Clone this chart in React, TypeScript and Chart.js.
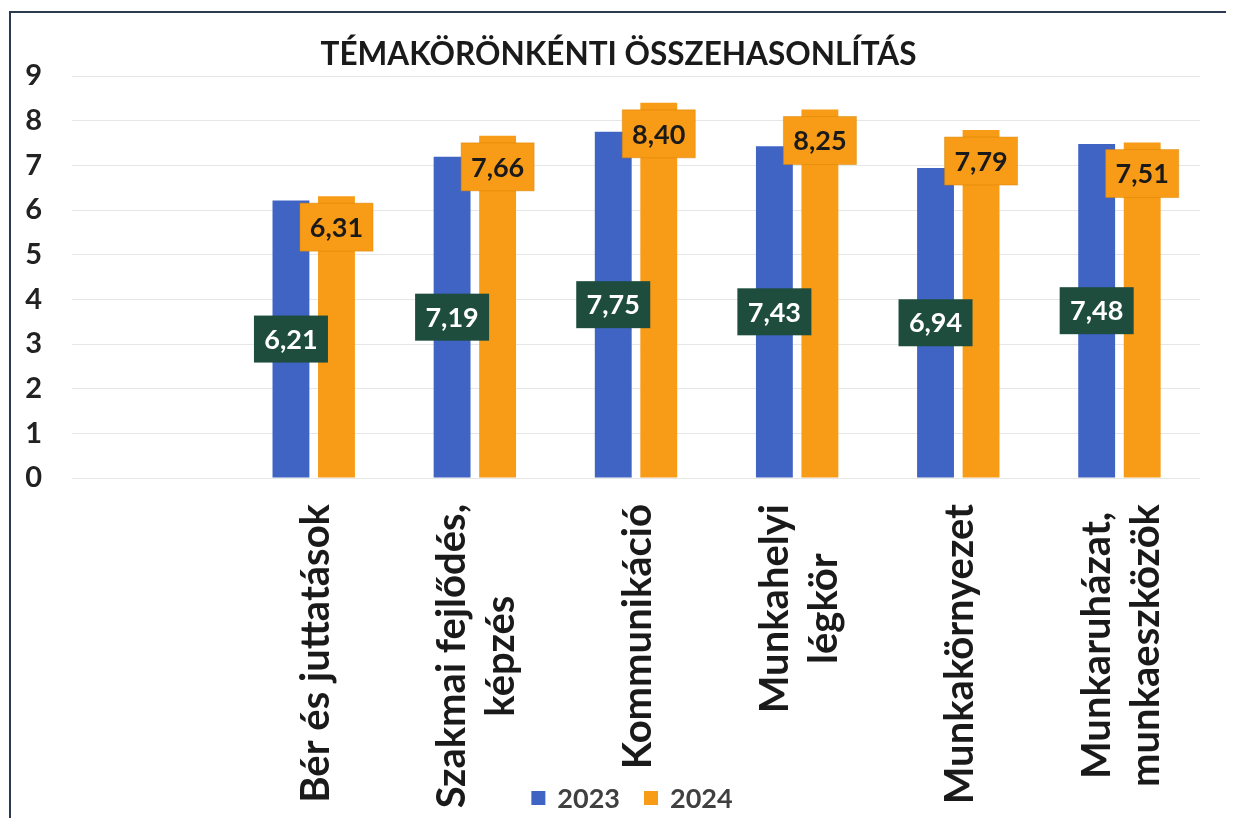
import React, { useEffect, useRef } from 'react';
import { Chart, registerables } from 'chart.js';

Chart.register(...registerables);

// ---- data ----
const categories: (string | string[])[] = [
  '',
  'Bér és juttatások',
  ['Szakmai fejlődés,', 'képzés'],
  'Kommunikáció',
  ['Munkahelyi', 'légkör'],
  'Munkakörnyezet',
  ['Munkaruházat,', 'munkaeszközök'],
];
const values2023: (number | null)[] = [null, 6.21, 7.19, 7.75, 7.43, 6.94, 7.48];
const values2024: (number | null)[] = [null, 6.31, 7.66, 8.4, 8.25, 7.79, 7.51];
const seriesNames = ['2023', '2024'];
const yTickValues = [0, 1, 2, 3, 4, 5, 6, 7, 8, 9];
const chartTitle = 'TÉMAKÖRÖNKÉNTI ÖSSZEHASONLÍTÁS';

// ---- style ----
const FONT = 'Lato, "Open Sans", sans-serif';
const BLUE = '#3F64C4';
const ORANGE = '#F89B16';
const GREEN = '#1E4D3E';
const TEXT = '#1a1a1a';
const LEGEND_TEXT = '#404040';
const CAT_FONT_SIZE = 40;
const CAT_LINE_HEIGHT = 49;
const CAT_PAD = 26;

const fmt = (v: number) => v.toFixed(2).replace('.', ',');

const overlayPlugin = {
  id: 'overlay',
  afterDatasetsDraw(chart: any) {
    const ctx: CanvasRenderingContext2D = chart.ctx;
    ctx.save();
    ctx.font = `bold 27px ${FONT}`;
    ctx.textAlign = 'center';
    ctx.textBaseline = 'middle';
    // 2023 labels: centered on bar, dark green box
    const m0 = chart.getDatasetMeta(0);
    m0.data.forEach((bar: any, i: number) => {
      const v = chart.data.datasets[0].data[i];
      if (v == null) return;
      const { x, y, base } = bar.getProps(['x', 'y', 'base'], true);
      const cy = (y + base) / 2;
      ctx.fillStyle = GREEN;
      ctx.fillRect(x - 37, cy - 23.5, 74, 47);
      ctx.fillStyle = '#ffffff';
      ctx.fillText(fmt(v), x, cy + 1);
    });
    // 2024 labels: inside end, orange box
    const m1 = chart.getDatasetMeta(1);
    m1.data.forEach((bar: any, i: number) => {
      const v = chart.data.datasets[1].data[i];
      if (v == null) return;
      const { x, y } = bar.getProps(['x', 'y'], true);
      ctx.fillStyle = ORANGE;
      ctx.fillRect(x - 36.5, y + 7, 73, 48);
      ctx.strokeStyle = 'rgba(210,130,0,0.45)';
      ctx.lineWidth = 1;
      ctx.strokeRect(x - 36.5, y + 7, 73, 48);
      ctx.fillStyle = TEXT;
      ctx.fillText(fmt(v), x, y + 32);
    });
    ctx.restore();
  },
  afterDraw(chart: any) {
    const ctx: CanvasRenderingContext2D = chart.ctx;
    const ca = chart.chartArea;
    const xs = chart.scales.x;
    ctx.save();
    ctx.fillStyle = TEXT;
    ctx.font = `bold ${CAT_FONT_SIZE}px ${FONT}`;
    ctx.textAlign = 'center';
    ctx.textBaseline = 'middle';
    (chart.data.labels as any[]).forEach((lab, i) => {
      const lines: string[] = Array.isArray(lab) ? lab : [lab];
      if (!lines.join('')) return;
      const px = xs.getPixelForTick(i);
      const W = Math.max(...lines.map((l) => ctx.measureText(l).width));
      const cy = ca.bottom + CAT_PAD + W / 2;
      lines.forEach((l, k) => {
        ctx.save();
        ctx.translate(px + 2 + (k - (lines.length - 1) / 2) * CAT_LINE_HEIGHT, cy);
        ctx.rotate(-Math.PI / 2);
        ctx.fillText(l, 0, 0);
        ctx.restore();
      });
    });

    // legend
    ctx.font = `bold 27px ${FONT}`;
    ctx.textAlign = 'left';
    const box = 14;
    const gapBT = 12;
    const gapItems = 24;
    const items = chart.data.datasets.map((d: any) => ({
      label: d.label as string,
      color: d.backgroundColor as string,
      w: ctx.measureText(d.label).width,
    }));
    const total =
      items.reduce((s: number, it: any) => s + box + gapBT + it.w, 0) + gapItems * (items.length - 1);
    let x = (ca.left + ca.right) / 2 - total / 2 - 4;
    const ly = chart.height - 20;
    items.forEach((it: any) => {
      ctx.fillStyle = it.color;
      ctx.fillRect(x, ly - box / 2, box, box);
      x += box + gapBT;
      ctx.fillStyle = LEGEND_TEXT;
      ctx.fillText(it.label, x, ly + 1);
      x += it.w + gapItems;
    });
    ctx.restore();
  },
};

export default function App() {
  const ref = useRef<HTMLCanvasElement>(null);
  useEffect(() => {
    if (!ref.current) return;
    const chart = new Chart(ref.current, {
      type: 'bar',
      data: {
        labels: categories as any,
        datasets: [
          {
            label: seriesNames[0],
            data: values2023 as any,
            backgroundColor: BLUE,
            categoryPercentage: 0.565,
            barPercentage: 0.81,
          },
          {
            label: seriesNames[1],
            data: values2024 as any,
            backgroundColor: ORANGE,
            categoryPercentage: 0.565,
            barPercentage: 0.81,
          },
        ],
      },
      options: {
        responsive: false,
        animation: false,
        layout: { padding: 0 },
        plugins: {
          legend: { display: false },
          tooltip: { enabled: false },
          title: {
            display: true,
            text: chartTitle,
            color: TEXT,
            font: { family: FONT, size: 31.5, weight: 'bold', lineHeight: 1.2 },
            padding: { top: 23, bottom: 2.2 },
          },
        },
        scales: {
          x: {
            grid: { display: false },
            border: { display: false },
            ticks: {
              color: 'rgba(0,0,0,0)',
              font: { family: FONT, size: 6 },
              maxRotation: 90,
              minRotation: 90,
              autoSkip: false,
              padding: CAT_PAD,
            },
            afterFit: (scale: any) => {
              scale.height = 340;
            },
          },
          y: {
            min: 0,
            max: 9,
            afterBuildTicks: (scale: any) => {
              scale.ticks = yTickValues.map((v) => ({ value: v }));
            },
            grid: { color: '#e6e6e6', drawTicks: false, lineWidth: 1 },
            border: { display: false },
            ticks: {
              color: '#222222',
              font: { family: FONT, size: 29, weight: 'bold' },
              padding: 30,
            },
            afterFit: (scale: any) => {
              scale.width = 61;
            },
          },
          yRight: {
            position: 'right',
            min: 0,
            max: 9,
            grid: { display: false },
            border: { display: false },
            ticks: { display: false },
            afterFit: (scale: any) => {
              scale.width = 26;
            },
          },
        },
      },
      plugins: [overlayPlugin],
    });
    return () => chart.destroy();
  }, []);

  return (
    <div style={{ padding: '3px 0 0 1px' }}>
      <div style={{ borderLeft: '2px solid #2b3a4e', borderTop: '2px solid #2b3a4e' }}>
        <canvas ref={ref} width={1215} height={805} style={{ display: 'block' }} />
      </div>
    </div>
  );
}
